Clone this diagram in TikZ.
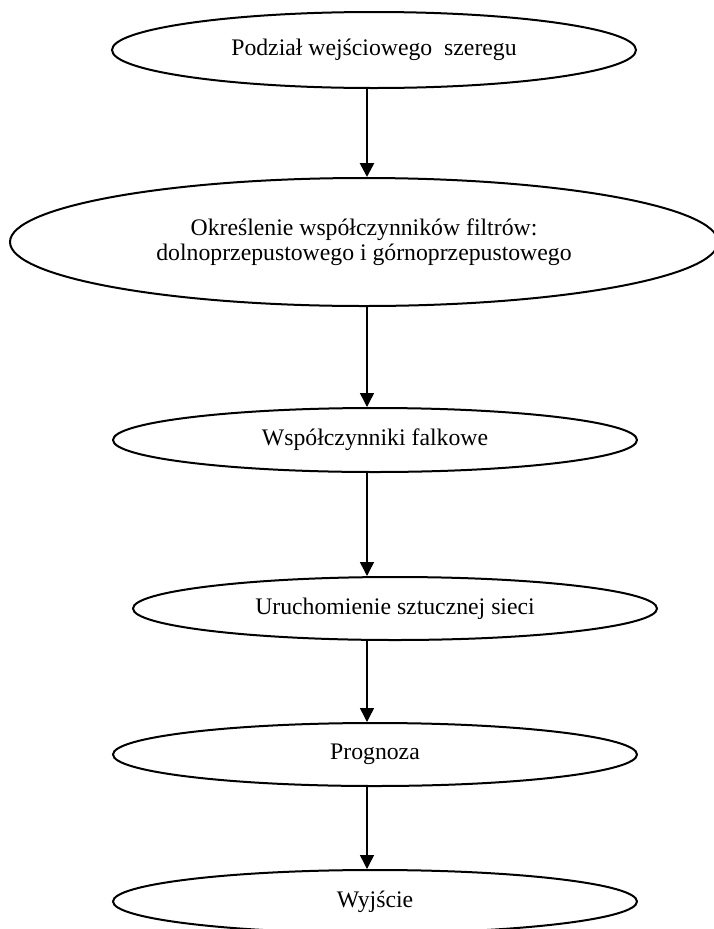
\documentclass[tikz,border=0pt]{standalone}
\usepackage{fontspec}
\setmainfont{Liberation Serif}
\usetikzlibrary{arrows.meta,shapes.geometric}

\tikzset{every picture/.style={line width=0.75pt}}
\tikzset{
  oval/.style={draw=black, ellipse, line width=1.5pt, inner sep=0pt, align=center,
    font=\fontsize{17.8}{19}\selectfont},
  flow/.style={draw=black, line width=1.1pt, -{Triangle[length=10.5pt,width=10.5pt]}}
}

\begin{document}
\begin{tikzpicture}[x=0.75pt,y=0.75pt,yscale=-1,xscale=1]
\useasboundingbox (0,0) rectangle (714,929);

%Shape: Ellipse [id:podzial]
\node [oval, minimum width=524*0.75pt, minimum height=76*0.75pt] (podzial) at (374,50) {Podział wejściowego\ \ szeregu};
%Shape: Ellipse [id:filtry]
\node [oval, minimum width=708*0.75pt, minimum height=128*0.75pt] (filtry) at (364,242) {Określenie współczynników filtrów:\\dolnoprzepustowego i górnoprzepustowego};
%Shape: Ellipse [id:falkowe]
\node [oval, minimum width=524*0.75pt, minimum height=64*0.75pt] (falkowe) at (375,440) {Współczynniki falkowe};
%Shape: Ellipse [id:siec]
\node [oval, minimum width=524*0.75pt, minimum height=63*0.75pt] (siec) at (395,608.5) {Uruchomienie sztucznej sieci};
%Shape: Ellipse [id:prognoza]
\node [oval, minimum width=524*0.75pt, minimum height=63*0.75pt] (prognoza) at (375,754.5) {Prognoza};
%Shape: Ellipse [id:wyjscie]
\node [oval, minimum width=524*0.75pt, minimum height=63*0.75pt] (wyjscie) at (375,901.5) {Wyjście};

\coordinate (axis) at (367,0);

%Straight Lines
\draw [flow, line width=2pt] (podzial.south -| axis) -- (filtry.north -| axis);
\draw [flow] (filtry.south -| axis) -- (falkowe.north -| axis);
\draw [flow] (falkowe.south -| axis) -- (siec.north -| axis);
\draw [flow] (siec.south -| axis) -- (prognoza.north -| axis);
\draw [flow] (prognoza.south -| axis) -- (wyjscie.north -| axis);

\end{tikzpicture}
\end{document}
